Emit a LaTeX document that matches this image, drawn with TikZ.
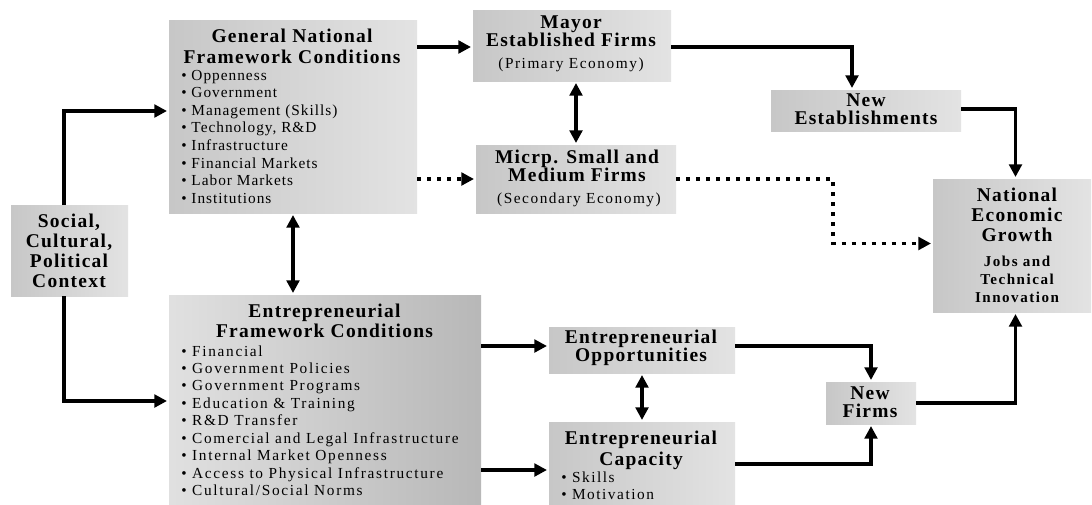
\documentclass[tikz,border=0pt]{standalone}
\usepackage{fontspec}
\setmainfont{Liberation Serif}[LetterSpace=10]
\newfontfamily\ttlfont{Liberation Serif}[LetterSpace=6.5]
\newfontfamily\gnlist{Liberation Serif}[LetterSpace=6.5]
\newfontfamily\eflist{Liberation Serif}[LetterSpace=11]
\usetikzlibrary{arrows.meta,calc}

\tikzset{
  box/.style={inner sep=0pt, outer sep=0pt, left color=black!22, right color=black!11},
  boxdark/.style={inner sep=0pt, outer sep=0pt, left color=black!12, right color=black!28},
  conn/.style={line width=2.9pt, -{Triangle[length=9.5pt,width=9.5pt]}, shorten >=1.5pt},
  twoway/.style={line width=2.9pt, {Triangle[length=9.5pt,width=9.5pt]}-{Triangle[length=9.5pt,width=9.5pt]},
                 shorten >=1.5pt, shorten <=1.5pt},
  dotconn/.style={conn, dash pattern=on 3.3pt off 4.2pt},
  ttl/.style={anchor=base, inner sep=0pt, font=\ttlfont\bfseries\fontsize{14.6}{#1}\selectfont},
  ttl/.default=15.75,
  sub/.style={anchor=base, inner sep=0pt, font=\fontsize{11.5}{13}\selectfont},
  lst/.style={anchor=base west, inner sep=0pt, font=\fontsize{11.5}{#1}\selectfont},
  lst/.default=13.2,
  gnl/.style={anchor=base west, inner sep=0pt, font=\gnlist\fontsize{11.5}{13.2}\selectfont},
  efl/.style={anchor=base west, inner sep=0pt, font=\eflist\fontsize{11.5}{13.1}\selectfont},
}

% \mkbox[style]{name}{x1}{y1}{x2}{y2}: shaded box between two corners
\newcommand\mkbox[6][box]{%
  \node[#1, minimum width={(#5-#3)*0.75pt}, minimum height={(#6-#4)*0.75pt}]
    (#2) at ({(#3+#5)/2},{(#4+#6)/2}) {};}

\begin{document}
\begin{tikzpicture}[x=0.75pt,y=-0.75pt]
\useasboundingbox (0,0) rectangle (1092,504);

% boxes
\mkbox{soc}{11}{205}{128}{296}
\mkbox{gnfc}{169}{20}{417}{213}
\mkbox[boxdark]{efc}{169}{295}{481}{504}
\mkbox{mayor}{473}{10}{671}{81}
\mkbox{micro}{476}{145}{676}{213}
\mkbox{newest}{771}{90}{961}{131}
\mkbox{neg}{933}{179}{1091}{312}
\mkbox{eo}{549}{327}{735}{373}
\mkbox{ec}{549}{422}{735}{504}
\mkbox{nf}{826}{382}{916}{424}

% texts
\node[ttl=15.2] (soc-t) at (69,227) {\begin{tabular}[t]{@{}c@{}}Social,\\Cultural,\\Political\\Context\end{tabular}};

\node[ttl] (gnfc-t) at (292,42) {\begin{tabular}[t]{@{}c@{}}General National\\Framework Conditions\end{tabular}};
\node[gnl] (gnfc-l) at (181,80) {\begin{tabular}[t]{@{}l@{}}
  \textbullet\ Oppenness\\ \textbullet\ Government\\ \textbullet\ Management (Skills)\\
  \textbullet\ Technology, R\&D\\ \textbullet\ Infrastructure\\ \textbullet\ Financial Markets\\
  \textbullet\ Labor Markets\\ \textbullet\ Institutions\end{tabular}};

\node[ttl=15] (efc-t) at (324.5,317) {\begin{tabular}[t]{@{}c@{}}Entrepreneurial\\Framework Conditions\end{tabular}};
\node[efl] (efc-l) at (181,356) {\begin{tabular}[t]{@{}l@{}}
  \textbullet\ Financial\\ \textbullet\ Government Policies\\ \textbullet\ Government Programs\\
  \textbullet\ Education \& Training\\ \textbullet\ R\&D Transfer\\
  \textbullet\ Comercial and Legal Infrastructure\\ \textbullet\ Internal Market Openness\\
  \textbullet\ Access to Physical Infrastructure\\ \textbullet\ Cultural/Social Norms\end{tabular}};

\node[ttl=12.75] (mayor-t) at (571,28) {\begin{tabular}[t]{@{}c@{}}Mayor\\Established Firms\end{tabular}};
\node[sub] (mayor-s) at (571,68) {(Primary Economy)};

\node[ttl=12] (micro-t) at (577,163) {\begin{tabular}[t]{@{}c@{}}Micrp. Small and\\Medium Firms\end{tabular}};
\node[sub] (micro-s) at (579,203) {(Secondary Economy)};

\node[ttl=12.75] (newest-t) at (866,106) {\begin{tabular}[t]{@{}c@{}}New\\Establishments\end{tabular}};

\node[ttl=15] (neg-t) at (1017,201) {\begin{tabular}[t]{@{}c@{}}National\\Economic\\Growth\end{tabular}};
\node[anchor=base, inner sep=0pt, font=\bfseries\fontsize{11.3}{13.5}\selectfont] (neg-s) at (1017,266)
  {\begin{tabular}[t]{@{}c@{}}Jobs and\\Technical\\Innovation\end{tabular}};

\node[ttl=12] (eo-t) at (641,343) {\begin{tabular}[t]{@{}c@{}}Entrepreneurial\\Opportunities\end{tabular}};

\node[ttl=15.75] (ec-t) at (641,444) {\begin{tabular}[t]{@{}c@{}}Entrepreneurial\\Capacity\end{tabular}};
\node[lst=12.75] (ec-l) at (561,482) {\begin{tabular}[t]{@{}l@{}}\textbullet\ Skills\\ \textbullet\ Motivation\end{tabular}};

\node[ttl=12] (nf-t) at (870,399) {\begin{tabular}[t]{@{}c@{}}New\\Firms\end{tabular}};

% connector end points
\coordinate (mayorin) at ($(mayor.west)+(0,1.5)$);
\coordinate (estin) at ($(newest.north)+(-14,0)$);
\coordinate (negtop) at ($(neg.north)+(3.5,0)$);
\coordinate (negbot) at ($(neg.south)+(3.5,0)$);
\coordinate (neglft) at ($(neg.west)+(0,-2)$);
\coordinate (dbend) at (833,179);
\coordinate (eoin) at ($(eo.west)+(0,-4)$);
\coordinate (ecin) at ($(ec.west)+(0,7)$);
\coordinate (ecout) at ($(ec.east)+(0,1)$);

% connectors
\draw[conn] ($(soc.north)+(-5.5,0)$) |- ($(gnfc.west)+(0,-5.5)$);
\draw[conn] ($(soc.south)+(-5.5,0)$) |- ($(efc.west)+(0,1.5)$);
\draw[twoway] (gnfc.south) -- (gnfc.south |- efc.north);
\draw[conn] (gnfc.east |- mayorin) -- (mayorin);
\draw[dotconn] (gnfc.east |- micro.west) -- (micro.west);
\draw[twoway] (micro.north) -- (micro.north |- mayor.south);
\draw[conn] (mayor.east |- mayorin) -| (estin);
\draw[conn] ($(newest.east)+(0,-1.5)$) -| (negtop);
\draw[dotconn] (micro.east) -- (dbend) |- (neglft);
\draw[conn] (efc.east |- eoin) -- (eoin);
\draw[conn] (efc.east |- ecin) -- (ecin);
\draw[twoway] (eo.south) -- (ec.north);
\draw[conn] (eo.east |- eoin) -| (nf.north);
\draw[conn] (ecout) -| (nf.south);
\draw[conn] (nf.east) -| (negbot);
\end{tikzpicture}
\end{document}
